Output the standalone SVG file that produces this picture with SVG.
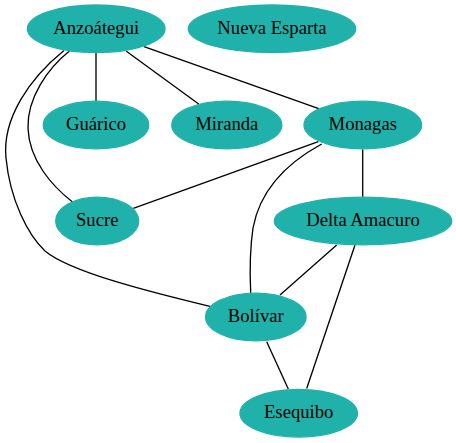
<svg xmlns="http://www.w3.org/2000/svg" width="456" height="443" viewBox="0 0 456 443">
<style>
.n ellipse{fill:#20b2aa;stroke:#20b2aa;stroke-width:1.33}
.n text{font-family:"Liberation Serif","Times New Roman",serif;font-size:18.67px;fill:#000;text-anchor:middle}
.e path{fill:none;stroke:#000;stroke-width:1.33}
</style>
<rect width="456" height="443" fill="#fff"/>
<g id="edges" class="e">
<path d="M96,53 L96,101"/>
<path d="M126,51 L198.7,104"/>
<path d="M144,46.7 L318.7,108.7"/>
<path d="M69.5,51 C48,68 27,98 28,128 C29,160 52,186 72.5,202"/>
<path d="M64,50.5 C30,78 2,118 6,158 C10,200 28,235 45,251 C70,272 150,292 211,306.7"/>
<path d="M318.3,141.7 L133.3,208.3"/>
<path d="M321.7,144 C285,164 260,190 253,228 C249,255 250,278 250.7,293"/>
<path d="M362.7,149.3 L362.7,197"/>
<path d="M336.7,245 L280,295"/>
<path d="M355,245 L306.7,388.5"/>
<path d="M266.7,341.7 L288.3,389"/>
</g>
<g id="anzoategui" class="n"><ellipse cx="96.2" cy="28.8" rx="68.8" ry="23.8"/><text x="96.2" y="33.5">Anzoátegui</text></g>
<g id="nueva_esparta" class="n"><ellipse cx="272" cy="28.8" rx="83.7" ry="23.8"/><text x="272" y="33.5">Nueva Esparta</text></g>
<g id="guarico" class="n"><ellipse cx="96" cy="125" rx="52.7" ry="23.8"/><text x="96" y="129.7">Guárico</text></g>
<g id="miranda" class="n"><ellipse cx="226.8" cy="125" rx="55" ry="23.8"/><text x="226.8" y="129.7">Miranda</text></g>
<g id="monagas" class="n"><ellipse cx="362.8" cy="125" rx="58.8" ry="23.8"/><text x="362.8" y="129.7">Monagas</text></g>
<g id="sucre" class="n"><ellipse cx="97.2" cy="221" rx="41.5" ry="23.8"/><text x="97.2" y="225.7">Sucre</text></g>
<g id="delta_amacuro" class="n"><ellipse cx="363" cy="221" rx="88.7" ry="23.8"/><text x="363" y="225.7">Delta Amacuro</text></g>
<g id="bolivar" class="n"><ellipse cx="255.8" cy="317" rx="50.2" ry="23.8"/><text x="255.8" y="321.7">Bolívar</text></g>
<g id="esequibo" class="n"><ellipse cx="298.7" cy="413.3" rx="58.7" ry="23.8"/><text x="298.7" y="418">Esequibo</text></g>
</svg>
